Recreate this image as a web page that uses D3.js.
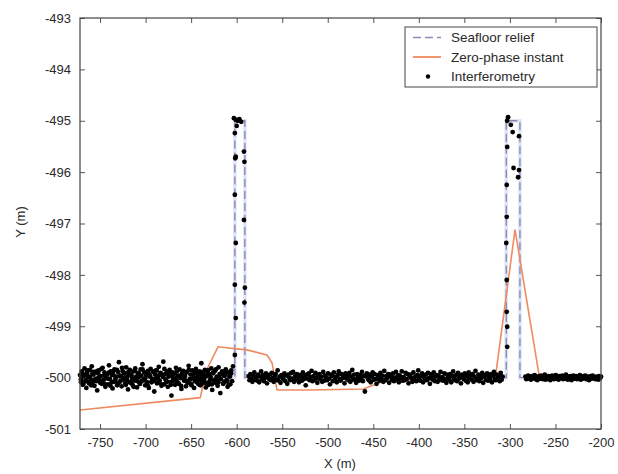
<!DOCTYPE html>
<html><head><meta charset="utf-8">
<script src="https://cdn.jsdelivr.net/npm/d3@7"></script>
<style>
body{margin:0;background:#fff}
svg text{font-family:"Liberation Sans",Arial,sans-serif;fill:#2a2a2a}
</style>
</head><body><svg id="c" width="618" height="474"></svg>
<script>
// ---------- data ----------
const xTicks = [-750,-700,-650,-600,-550,-500,-450,-400,-350,-300,-250,-200];
const yTicks = [-501,-500,-499,-498,-497,-496,-495,-494,-493];

// Seafloor relief (dashed)
const reliefX = [-772,-602,-602,-591,-591,-304,-304,-289,-289,-200];
const reliefY = [-500,-500,-495,-495,-500,-500,-495,-495,-500,-500];

// Zero-phase instant (orange)
const zeroX = [-772,-640,-633,-620.5,-600,-588.6,-566.7,-561.2,-555.7,-520,-461,-440,-316,-294.4,-268,-255,-200];
const zeroY = [-500.63,-500.39,-499.85,-499.40,-499.44,-499.46,-499.56,-499.71,-500.24,-500.24,-500.22,-500.08,-500.0,-497.12,-499.95,-500.0,-500.0];

// Interferometry: flat-bottom segments (x extent) and deviations from -500 m in cm
const segLeft = [-772,-604];
const devLeft = [5,-8,12,-14,3,18,-6,-20,9,1,-11,15,-4,22,-9,6,-16,11,-2,-25,8,14,-7,3,-12,19,-5,10,-18,0,7,-13,24,-3,12,-9,-21,5,16,-6,2,-15,11,30,-8,4,-17,13,-1,9,-11,20,-5,-23,7,15,-10,3,-14,12,-6,18,-2,-19,8,1,-12,16,-7,26,-4,10,-15,5,-9,13,-20,2,17,-8,-3,11,-27,6,14,-11,-1,21,-6,9,-16,4,31,-13,7,-5,12,-18,2,15,-9,-35,10,-3,8,-14,19,-7,4,-12,16,-1,-22,9,13,-6,3,-17,11,-10,23,-4,6,-15,14,-2,-20,8,17,-9,1,-13,12,-5,28,-11,5,-8,15,-19,3,10,-14,7,-3,18,-24,9,-6,13,-10,2,-16,20,-1,-30,7,11,-12,4,-8,16,-5,-18,10,3,-13,14,-7,22];
const segLeft2 = [-771,-606];
const devLeft2 = [-3,9,-12,6,-5,14,-9,2,-15,8,11,-4,-7,13,0,-10,17,-6,4,-13,7,-2,10,-16,5,12,-8,-1,15,-11,3,-6,19,-4,8,-14,1,11,-9,6,-3,-18,13,2,-7,9,-12,4,16,-5,-1,10,-15,7,3,-9,12,-6,-2,14,-10,5,8,-13,1,17,-4,-8,6,11,-14,3,-6,9,-1,13,-11,4,-16,7,2,-5,10,-9,15,-3,-12,6,0,-7,12,-4,8,-15,3,11,-2,-10,5,14,-8,1,-13,9,-5,16,-1,-9,7,-3,12,-11,4,10,-6,-14,2,8];
const segMid = [-587,-308];
const devMid = [3,-5,7,-2,-8,4,10,-4,1,-6,6,-9,2,12,-3,5,-7,0,8,-11,4,-2,6,-5,9,-1,-8,3,7,-4,14,-6,2,-10,5,1,-3,8,-7,4,-12,6,0,-5,9,-2,11,-8,3,-4,7,-1,-9,5,2,-6,10,-3,4,-15,6,-2,8,-5,1,13,-7,3,-4,9,-1,-10,5,7,-3,2,-8,11,-6,4,0,-5,8,-2,-13,6,3,-7,10,-4,1,-9,5,12,-3,-6,7,-1,4,-11,8,-2,3,-5,9,-8,2,15,-4,6,-3,-10,7,1,-6,5,-2,11,-7,3,-27,4,8,-1,-5,6,-9,2,10,-4,7,-3,-12,5,1,-6,9,-2,4,-8,13,-5,3,-1,7,-10,6,2,-4,8,-7,0,11,-3,5,-9,4,-2,12,-6,1,-5,9,-3,7,-11,3,6,-1,-8,10,-4,2,-7,5,14,-2,-6,4,8,-9,1,-3,6,-5,9,-1,-12,7,3,-4,10,-7,2,5,-8,4,-2,11,-5,1,-6,8,-3,-10,6,2,-4,7,-9,3,12,-1,-5,5,-7,9,-2,4,-11,6,1,-3,8,-6,3,-9,10,-1,5,-4,7,-8,2,13,-5,-2,6,-7,4,-1,9,-10,3,5,-4,8,-6,1,-3,7,-9,4,11,-2,-5,6,-1,3,-7,9,-4,2];
const segRight = [-283,-200];
const devRight = [2,-3,1,4,-2,0,-4,3,1,-1,5,-3,2,-5,0,3,-2,4,-1,-3,2,6,-4,1,-2,3,0,-5,2,4,-1,-3,1,5,-2,0,-4,3,2,-1,4,-3,1,-2,6,-1,-4,2,0,3,-5,1,4,-2,-1,3,-3,2,0,5,-4,1,-2,3,-1,4,-3,0,2,-5,1,3,-2,4,-1,0,-3,2,1,-4,3,-1,2];

// Interferometry points on the two relief features
const peakX = [-603,-601,-599,-597,-595,-600,-602,-601.5,-602,-601,-602,-601,-602,-601,-591.5,-592,-591,-591.5,-592,
               -302,-299,-297,-303,-303.5,-296,-290,-303.5,-304,-303.5,-303.5,-303,-303,-303,-290,-291];
const peakY = [-494.95,-494.98,-495.0,-494.97,-495.02,-495.1,-495.24,-495.73,-496.44,-497.38,-498.19,-498.84,-499.56,-495.7,-495.8,-496.93,-498.25,-498.54,-495.6,
               -494.93,-495.08,-495.22,-495.51,-496.25,-495.92,-495.96,-496.87,-497.38,-498.10,-498.72,-499.01,-499.40,-495.0,-495.3,-496.1];

const legendLabels = ["Seafloor relief","Zero-phase instant","Interferometry"];

// ---------- chart ----------
const svg = d3.select("#c");
const L = 80, R = 601, T = 18, B = 429;
const x = d3.scaleLinear().domain([-772,-200]).range([L,R]);
const y = d3.scaleLinear().domain([-501,-493]).range([B,T]);

const cReliefLine = "#8a8ab8";
const cZero = "#f08a60";

svg.append("rect").attr("x",L).attr("y",T).attr("width",R-L).attr("height",B-T).attr("fill","#fff");

// axes
const fontSz = 13;
const fmt = d => String(d);
const gB = svg.append("g").attr("transform",`translate(0,${B})`)
  .call(d3.axisBottom(x).tickValues(xTicks).tickFormat(fmt).tickSizeInner(-5).tickSizeOuter(0).tickPadding(9));
const gL = svg.append("g").attr("transform",`translate(${L},0)`)
  .call(d3.axisLeft(y).tickValues(yTicks).tickFormat(fmt).tickSizeInner(-5).tickSizeOuter(0).tickPadding(9));
const gT = svg.append("g").attr("transform",`translate(0,${T})`)
  .call(d3.axisTop(x).tickValues(xTicks).tickSizeInner(-5).tickSizeOuter(0).tickFormat(""));
const gR = svg.append("g").attr("transform",`translate(${R},0)`)
  .call(d3.axisRight(y).tickValues(yTicks).tickSizeInner(-5).tickSizeOuter(0).tickFormat(""));
[gB,gL,gT,gR].forEach(g=>{
  g.select(".domain").remove();
  g.selectAll(".tick line").attr("stroke","#555").attr("stroke-width",1);
  g.selectAll("text").attr("font-size",fontSz).attr("font-family","Liberation Sans, Arial, sans-serif").attr("fill","#2a2a2a");
});

// relief
const line = d3.line().x(d=>x(d[0])).y(d=>y(d[1]));
const reliefPts = reliefX.map((v,i)=>[v,reliefY[i]]);
svg.append("path").attr("d",line(reliefPts)).attr("fill","none")
  .attr("stroke","#c8d4ee").attr("stroke-width",3.5).attr("opacity",0.6);
svg.append("path").attr("d",line(reliefPts)).attr("fill","none")
  .attr("stroke",cReliefLine).attr("stroke-width",1.4).attr("stroke-dasharray","8,4");

// zero-phase
const zeroPts = zeroX.map((v,i)=>[v,zeroY[i]]);
svg.append("path").attr("d",line(zeroPts)).attr("fill","none")
  .attr("stroke",cZero).attr("stroke-width",1.6);

// interferometry dots
function seg(ext, dev){
  const n = dev.length;
  return dev.map((d,i)=>[ext[0] + (ext[1]-ext[0])*i/(n-1), -500 + d/100]);
}
const dots = [].concat(seg(segLeft,devLeft), seg(segLeft2,devLeft2), seg(segMid,devMid), seg(segRight,devRight),
  peakX.map((v,i)=>[v,peakY[i]]));
svg.append("g").selectAll("circle").data(dots).join("circle")
  .attr("cx",d=>x(d[0])).attr("cy",d=>y(d[1])).attr("r",2.4).attr("fill","#000");

// frame
svg.append("rect").attr("x",L).attr("y",T).attr("width",R-L).attr("height",B-T)
  .attr("fill","none").attr("stroke","#444").attr("stroke-width",1.2);

// axis labels
svg.append("text").attr("x",340).attr("y",468).attr("text-anchor","middle").attr("font-size",13).text("X (m)");
svg.append("text").attr("transform","translate(25,222) rotate(-90)").attr("text-anchor","middle").attr("font-size",13).text("Y (m)");

// legend
const lg = svg.append("g");
lg.append("rect").attr("x",405).attr("y",27).attr("width",192).attr("height",60)
  .attr("fill","#fff").attr("stroke","#444").attr("stroke-width",1);
const rows = [37.5,57,76.5];
lg.append("line").attr("x1",413).attr("x2",441).attr("y1",rows[0]).attr("y2",rows[0])
  .attr("stroke",cReliefLine).attr("stroke-width",1.4).attr("stroke-dasharray","8,4");
lg.append("line").attr("x1",413).attr("x2",441).attr("y1",rows[1]).attr("y2",rows[1])
  .attr("stroke",cZero).attr("stroke-width",1.8);
lg.append("circle").attr("cx",428).attr("cy",rows[2]).attr("r",2.2).attr("fill","#000");
lg.selectAll("text.l").data(legendLabels).join("text").attr("class","l")
  .attr("x",451).attr("y",(d,i)=>rows[i]).attr("dy","0.35em").attr("font-size",13.5).text(d=>d);
</script></body></html>
